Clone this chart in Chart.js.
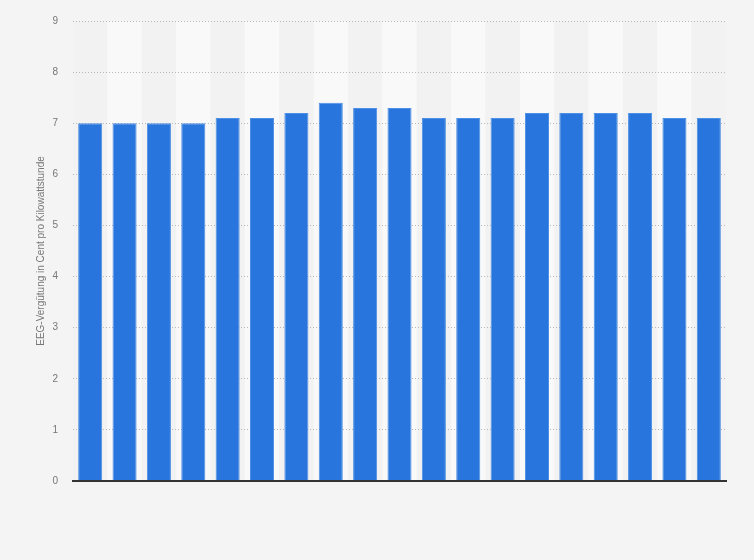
<!DOCTYPE html>
<html lang="de">
<head>
<meta charset="utf-8">
<title>EEG-Vergütung</title>
<script src="https://cdn.jsdelivr.net/npm/chart.js@4"></script>
<style>
    html, body { margin: 0; padding: 0; background: #f4f4f4; }
    #wrap { width: 754px; height: 560px; position: relative; }
</style>
</head>
<body>
<div id="wrap"><canvas id="chart" width="754" height="560"></canvas></div>
<script>
// Data (x labels are not shown there)
const categories = ['1', '2', '3', '4', '5', '6', '7', '8', '9', '10',
    '11', '12', '13', '14', '15', '16', '17', '18', '19'];
const verguetung = [7.0, 7.0, 7.0, 7.0, 7.1, 7.1, 7.2, 7.4, 7.3, 7.3,
    7.1, 7.1, 7.1, 7.2, 7.2, 7.2, 7.2, 7.1, 7.1];
const yTicks = [0, 1, 2, 3, 4, 5, 6, 7, 8, 9];

// page background + alternating column bands, drawn before grid and bars
const bandPlugin = {
    id: 'bands',
    beforeDraw(chart) {
        const { ctx, width, height, chartArea, scales } = chart;
        ctx.save();
        ctx.fillStyle = '#f4f4f4';
        ctx.fillRect(0, 0, width, height);
        const step = (chartArea.right - chartArea.left) / categories.length;
        categories.forEach((c, i) => {
            ctx.fillStyle = i % 2 ? '#f9f9f9' : '#f2f2f2';
            const x = scales.x.getPixelForValue(i) - step / 2;
            ctx.fillRect(x, chartArea.top, step, chartArea.bottom - chartArea.top);
        });
        ctx.restore();
    }
};

Chart.defaults.font.family = '"Liberation Sans", Arial, sans-serif';

new Chart(document.getElementById('chart').getContext('2d'), {
    type: 'bar',
    data: {
        labels: categories,
        datasets: [{
            label: 'EEG-Vergütung',
            data: verguetung,
            backgroundColor: '#2876dd',
            borderColor: '#4d8fe3',
            borderWidth: 1,
            barPercentage: 0.7,
            categoryPercentage: 1
        }]
    },
    options: {
        responsive: false,
        animation: false,
        layout: { padding: { left: 0, right: 28, top: 20, bottom: 0 } },
        scales: {
            x: {
                grid: { display: false },
                border: { display: true, color: '#333', width: 2, z: 5 },
                ticks: { display: false },
                afterFit(scale) { scale.height = 79; }
            },
            y: {
                min: 0,
                max: 9,
                afterBuildTicks(scale) { scale.ticks = yTicks.map(v => ({ value: v })); },
                grid: {
                    color: c => c.tick && c.tick.value === 0 ? 'rgba(0,0,0,0)' : '#b8b8b8',
                    drawTicks: false,
                    lineWidth: 1
                },
                border: { display: false, dash: [1, 2] },
                ticks: { color: '#777', font: { size: 10 }, padding: 15 },
                title: {
                    display: true,
                    text: 'EEG-Vergütung in Cent pro Kilowattstunde',
                    color: '#777',
                    font: { size: 10 },
                    padding: { top: 35, bottom: 0 }
                },
                afterFit(scale) { scale.width = 73; }
            }
        },
        plugins: {
            legend: { display: false },
            tooltip: { enabled: false }
        }
    },
    plugins: [bandPlugin]
});
</script>
</body>
</html>
